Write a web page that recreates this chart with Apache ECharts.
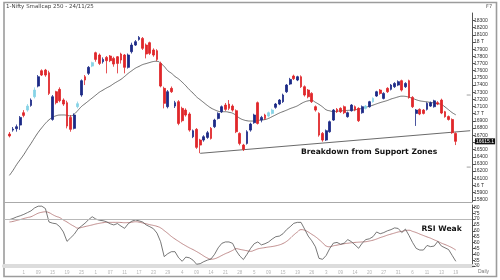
<!DOCTYPE html>
<html><head><meta charset="utf-8">
<script src="https://cdn.jsdelivr.net/npm/echarts@6/dist/echarts.min.js"></script>
<style>html,body{margin:0;padding:0;background:#fff}#c{width:500px;height:280px}</style>
</head><body><div id="c"></div>
<script>
// trading-day labels (day of month), one per candle
const dates = ["26","27","28","29","1","02","03","06","09","10","11","12","15","16","17","18","19","20","23","24","25","26","27","30",
"1","02","03","04","07","08","09","10","11","14","15","16","17","18","21","22","23","24","25","28","29","30","31","01",
"4","05","06","07","09","11","12","13","14","18","19","20","21","22","25","26","28","29","01","02","5","06","07","08",
"09","10","11","12","15","16","17","18","19","22","23","24","26","29","30","01","3","06","07","08","09","10","12","13",
"14","15","16","17","20","21","23","24","27","28","29","30","31","03","04","05","6","07","08","10","11","12","12","12",
"13","14","17","18","19"];
const opens = [16717,16772,16791,16842,17014,17051,17116,17237,17386,17600,17609,17572,16921,17307,17340,17191,17154,16949,16796,17098,
17261,17516,17563,17665,17851,17819,17726,17786,17805,17772,17795,17833,17819,17647,17865,17958,18037,18051,17958,17991,
17889,17879,17702,17354,17098,17354,17107,17168,17075,17051,16996,16679,16782,16633,16633,16670,16796,16819,16935,17028,
17121,17135,17107,17042,16726,16563,16586,16772,16875,17154,16912,16982,16968,17005,17089,17135,17168,17307,17414,17526,
17470,17516,17377,17330,17284,17098,17005,16726,16633,16749,16912,17061,17075,17098,16959,17042,17098,17075,17014,17075,
17098,17168,17247,17330,17214,17354,17340,17377,17400,17461,17377,17461,17228,17005,17061,17051,17061,17107,17098,17154,
17190,17028,16960,16920,16726];
const closes = [16690,16786,16819,16949,16977,17107,17191,17330,17516,17540,17540,17284,17237,17154,17182,17135,16828,16782,16982,17140,
17461,17470,17647,17712,17758,17702,17758,17740,17740,17693,17702,17749,17647,17819,17958,18005,18065,17912,17833,17842,
17819,17758,17386,17145,17307,17307,17154,16865,16903,16982,16772,16763,16531,16563,16679,16735,16656,16912,17005,17098,
17061,17075,17051,16749,16586,16503,16749,16856,16982,16865,16949,16935,17014,17051,17135,17191,17261,17400,17479,17489,
17516,17377,17261,17237,17168,17051,16702,16633,16763,16889,17051,17028,17028,17014,17014,17121,17051,16903,17098,17107,
17168,17214,17307,17284,17284,17307,17400,17423,17447,17330,17423,17228,17098,17051,16996,17005,17145,17154,17180,17135,
17010,16959,16920,16735,16615];
const lows = [16670,16750,16750,16775,16950,17028,17098,17214,17368,17526,17516,17261,16903,17130,17160,17110,16796,16749,16782,17075,
17237,17400,17540,17650,17726,17679,17700,17563,17720,17656,17563,17700,17563,17630,17840,17945,18019,17889,17772,17820,
17795,17735,17368,17075,17075,17290,17080,16840,16880,16960,16750,16660,16510,16450,16610,16650,16640,16800,16920,17010,
17040,17050,17030,16730,16560,16480,16570,16750,16860,16850,16880,16915,16950,16990,17070,17120,17150,17290,17400,17470,
17455,17360,17240,17215,17150,17030,16680,16610,16620,16735,16900,17010,17010,16995,16945,17030,17035,16885,17000,17060,
17085,17155,17235,17265,17200,17290,17325,17360,17385,17310,17360,17210,17080,16830,16980,16990,17045,17095,17085,17120,
16995,16945,16905,16720,16563];
const highs = [16745,16815,16850,16968,17050,17135,17214,17368,17540,17619,17625,17600,17261,17320,17368,17214,17182,16982,17005,17170,
17479,17540,17665,17726,17865,17840,17786,17805,17819,17795,17805,17851,17833,17840,17991,18028,18084,18070,17980,18005,
17912,17900,17726,17377,17330,17380,17180,17190,17098,17075,17020,16780,16800,16650,16700,16760,16815,16930,17020,17115,
17150,17191,17130,17060,16740,16580,16770,16875,17000,17170,16970,17000,17030,17070,17150,17205,17280,17415,17500,17545,
17530,17535,17395,17345,17300,17115,17020,16745,16780,16905,17065,17080,17090,17115,17030,17135,17115,17090,17115,17120,
17180,17228,17320,17345,17300,17370,17415,17440,17465,17475,17440,17475,17245,17065,17075,17065,17160,17170,17195,17175,
17210,17040,16975,16935,16740];
const cyanCandles = [5,7,19,23,72,73,99,101];
const ma20 = [16140,16210,16290,16360,16430,16510,16585,16665,16740,16805,16865,16915,16950,16972,16982,16983,16978,16970,16995,17045,
17100,17140,17180,17220,17260,17300,17330,17360,17386,17420,17450,17480,17520,17563,17600,17635,17660,17685,17700,17715,
17728,17732,17705,17660,17600,17565,17520,17485,17440,17390,17335,17288,17235,17195,17155,17115,17080,17055,17035,17028,
17028,17020,17007,16975,16937,16915,16902,16898,16898,16906,16913,16919,16935,16960,16985,17010,17030,17050,17072,17090,
17110,17140,17165,17180,17185,17160,17130,17095,17055,17040,17030,17035,17040,17043,17047,17050,17055,17065,17075,17090,
17105,17120,17138,17155,17170,17185,17205,17220,17235,17245,17242,17230,17215,17195,17180,17172,17165,17158,17150,17140,
17130,17095,17055,17015,16985];
const rsi = [69.5,70.5,71.8,72.8,74,75.5,77,79.5,81,81,79,67.5,66.5,66,63.5,59,51,54,57,61.5,
64,66.5,69.5,72,70,69,68.6,67.7,66,65,66.2,64,62.1,66,68.2,69.2,68.5,67.5,65,63.5,
61.8,58,50.7,38,40.5,42.2,42.2,37,34,37.6,37,35,31.5,32,33.7,35,36,40,45.5,49.3,
50.5,50.5,49.3,43,38.5,35.5,40,45,49,50.5,48,49,50.5,53,55,55.5,57.5,61,63.5,66.4,
67.2,67.2,61.5,55.5,51.5,46.4,36.5,35.7,39,45,49.5,50.1,48.5,49.5,52.5,50.7,48,45.1,49.5,52.5,
53.2,55,59,57.5,58.5,60,61,62.5,62,58.5,61.5,56,50,45,43.6,43.6,47.5,46.5,47,51,
47,45.5,44,39,34];
const rsiSignal = [67.5,68,68.8,69.6,70.5,71.3,72,73.5,75,75.8,76.2,75.5,73.8,72.3,71.2,69.2,67.5,65.5,63.8,62.3,
62.8,63.6,64.3,65,65.8,66.4,66.9,67.2,67.2,67.2,67.2,67.1,66.9,67,67.3,67.7,67.4,66.7,66,65.2,
64.6,63.8,62.5,60.2,57.8,55.2,53,51,49,47.2,45.5,44,42.3,40.5,38.5,36.8,35.8,36.2,37.4,39,
40.5,41.8,43.3,44.8,44.2,43.6,43,42.5,43.4,44.6,45.2,45.7,46.2,46.6,47.2,48,49.2,51,53.6,56.5,
59,61,60.5,59,57,55,52.5,49.8,47,46.4,47.2,47.8,48.4,49,49.4,49.8,50.1,50.3,50.5,50.7,
51.3,52,53,54.2,55.2,56.3,57.2,58.1,59,59.5,60.2,60.5,59.5,58.5,57.2,56,54.8,53.7,52.3,51,
49.5,48.3,47,45.5,43.6];
const priceTicks = [15800,15900,16000,16100,16200,16300,16400,16500,16600,16700,16800,16900,17000,17100,17200,17300,17400,17500,17600,17700,17800,17900,18000,18100,18200,18300];
const rsiTicks = [30,35,40,45,50,55,60,65,70,75,80];
const rsiLevel = 70;
const supportLine = [[54,16448],[129,16763]];
const rangeMarks = [17261, 16256];
const lastPrice = 16615.1;
const labelEvery = 4;

const cats = [''].concat(dates, ['', '', '', '']);
const candleData = opens.map((o, j) => {
  const d = {value: [j + 1, o, closes[j], lows[j], highs[j]]};
  if (cyanCandles.includes(j)) d.itemStyle = {color: '#86d3e6', color0: '#86d3e6', borderColor: '#86d3e6', borderColor0: '#86d3e6'};
  return d;
});
const toXY = arr => arr.map((v, j) => [j + 1, v]);

const chart = echarts.init(document.getElementById('c'), null, {renderer: 'canvas'});
const FONT = 'Liberation Sans';
chart.setOption({
  animation: false,
  backgroundColor: '#fff',
  grid: [
    {left: 4, right: 28, top: 13, height: 189},
    {left: 4, right: 28, top: 205, height: 61}
  ],
  xAxis: [
    {type: 'category', gridIndex: 0, data: cats, boundaryGap: true,
     axisLine: {lineStyle: {color: '#aaa', width: 1}}, axisTick: {show: false}, axisLabel: {show: false}, splitLine: {show: false}},
    {type: 'category', gridIndex: 1, data: cats, boundaryGap: true,
     axisLine: {lineStyle: {color: '#dcdcdc', width: 4}}, axisTick: {show: false},
     axisLabel: {fontSize: 4.5, color: '#b5b5b5', margin: 4, fontFamily: FONT,
       interval: (i) => i >= 5 && i <= dates.length && (i - 1) % labelEvery === 0},
     splitLine: {show: false}}
  ],
  yAxis: [
    {type: 'value', gridIndex: 0, position: 'right', min: 15769, max: 18405, scale: true,
     axisLine: {show: true, lineStyle: {color: '#555', width: 1}},
     axisTick: {show: true, length: 3, lineStyle: {color: '#555'}, customValues: priceTicks},
     axisLabel: {fontSize: 5, color: '#333', margin: 2, fontFamily: FONT, customValues: priceTicks,
       formatter: v => (v % 1000 === 0 ? (v / 1000) + ' T' : String(v))},
     splitLine: {show: false}},
    {type: 'value', gridIndex: 1, position: 'right', min: 30, max: 82,
     axisLine: {show: true, lineStyle: {color: '#555', width: 1}},
     axisTick: {show: true, length: 3, lineStyle: {color: '#555'}, customValues: rsiTicks},
     axisLabel: {fontSize: 5, color: '#333', margin: 2, fontFamily: FONT, customValues: rsiTicks},
     splitLine: {show: false}}
  ],
  series: [
    {type: 'candlestick', xAxisIndex: 0, yAxisIndex: 0, data: candleData, encode: {x: 0, y: [1, 2, 3, 4]},
     barWidth: 2.4, z: 3,
     itemStyle: {color: '#1c2a86', color0: '#e0262a', borderColor: '#1c2a86', borderColor0: '#e0262a', borderWidth: 0.8},
     markLine: {silent: true, symbol: 'none', animation: false,
       lineStyle: {color: 'rgba(0,0,0,0)', width: 0},
       label: {show: true, position: 'end', distance: 3, formatter: String(lastPrice), fontSize: 5, fontFamily: FONT, color: '#fff', backgroundColor: '#111', padding: [1, 1, 0, 1]},
       data: [{yAxis: lastPrice}]}},
    {type: 'line', xAxisIndex: 0, yAxisIndex: 0, data: toXY(ma20), showSymbol: false, smooth: true,
     lineStyle: {color: '#333', width: 0.7}},
    {type: 'line', xAxisIndex: 0, yAxisIndex: 0, data: supportLine, showSymbol: false,
     lineStyle: {color: '#444', width: 0.8}},
    {type: 'scatter', xAxisIndex: 0, yAxisIndex: 0, data: rangeMarks.map(v => [129, v]), symbol: 'rect', symbolSize: [4, 1], symbolOffset: [-1.5, 0],
     itemStyle: {color: '#888'}, silent: true},
    {type: 'line', xAxisIndex: 1, yAxisIndex: 1, data: toXY(rsiSignal), showSymbol: false, smooth: true,
     lineStyle: {color: '#b07070', width: 0.8},
     markLine: {silent: true, symbol: 'none', label: {show: false}, lineStyle: {color: '#b9b9b9', width: 1, type: 'solid'}, data: [{yAxis: rsiLevel}]}},
    {type: 'line', xAxisIndex: 1, yAxisIndex: 1, data: toXY(rsi), showSymbol: false,
     lineStyle: {color: '#555', width: 0.8}}
  ],
  graphic: [
    {type: 'rect', shape: {x: 4, y: 2.5, width: 492.5, height: 274}, style: {fill: 'none', stroke: '#9c9c9c', lineWidth: 1.6}, silent: true},
    {type: 'text', left: 6, top: 4, style: {text: '1-Nifty Smallcap 250 - 24/11/25', fontSize: 5.5, fontFamily: 'DejaVu Sans', fill: '#444'}},
    {type: 'text', left: 486, top: 4, style: {text: 'F7', fontSize: 5, fontFamily: 'DejaVu Sans', fill: '#555'}},
    {type: 'text', x: 301, y: 152.5, style: {text: 'Breakdown from Support Zones', fontSize: 7.6, fontWeight: 'bold', fontFamily: 'DejaVu Sans', fill: '#111', textVerticalAlign: 'middle'}},
    {type: 'text', x: 421.5, y: 229, style: {text: 'RSI Weak', fontSize: 7.6, fontWeight: 'bold', fontFamily: 'DejaVu Sans', fill: '#111', textVerticalAlign: 'middle'}},
    {type: 'text', x: 478, y: 272, style: {text: 'Daily', fontSize: 5, fontFamily: FONT, fill: '#777', textVerticalAlign: 'middle'}}
  ]
});
</script></body></html>
